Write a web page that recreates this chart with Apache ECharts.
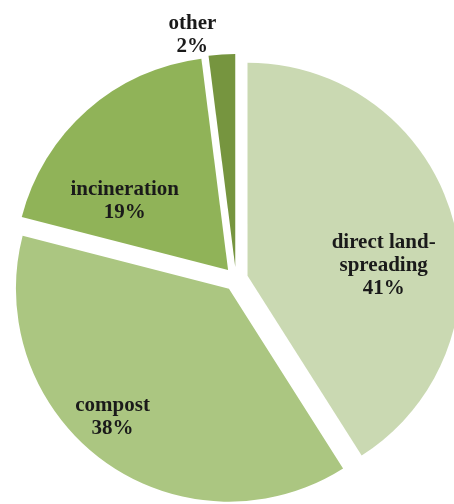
<!DOCTYPE html>
<html>
<head>
<meta charset="utf-8">
<script src="https://cdn.jsdelivr.net/npm/echarts@6/dist/echarts.min.js"></script>
<style>html,body{margin:0;padding:0;background:#fff;}#c{width:454px;height:504px;}</style>
</head>
<body>
<div id="c"></div>
<script>
const categories = ['direct land-\nspreading', 'compost', 'incineration', 'other'];
const values = [41, 38, 19, 2];
const colors = ['#cad9b2', '#abc681', '#90b358', '#76953f'];
const labelShift = [[31, 20], [-52, 40], [-31, 13], [-36, -123]];

const chart = echarts.init(document.getElementById('c'));
chart.setOption({
  animation: false,
  series: [{
    type: 'pie',
    center: [236, 279],
    radius: 213,
    startAngle: 90,
    clockwise: true,
    selectedMode: 'multiple',
    selectedOffset: 12,
    emphasis: { disabled: true },
    label: {
      position: 'inside',
      fontFamily: 'Liberation Serif',
      fontWeight: 'bold',
      fontSize: 21,
      lineHeight: 23,
      color: '#1a1a1a',
      align: 'center',
      formatter: p => p.name + '\n' + p.value + '%'
    },
    labelLine: { show: false },
    labelLayout: p => ({ dx: labelShift[p.dataIndex][0], dy: labelShift[p.dataIndex][1] }),
    data: categories.map((c, i) => ({
      name: c,
      value: values[i],
      selected: true,
      itemStyle: { color: colors[i] }
    }))
  }]
});
</script>
</body>
</html>
